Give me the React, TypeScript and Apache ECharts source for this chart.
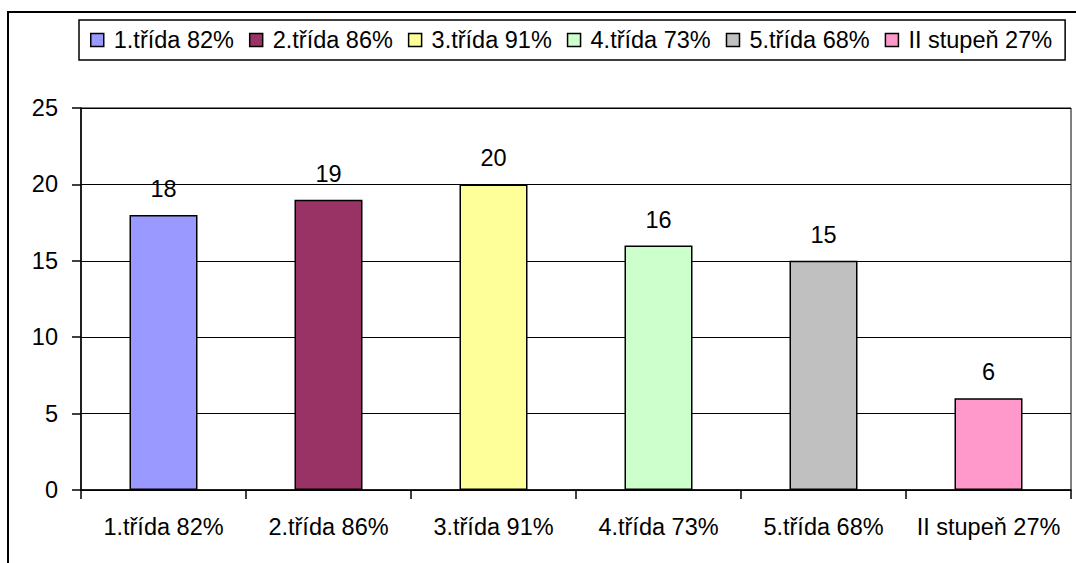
import React, { useEffect, useRef } from "react";
import * as echarts from "echarts";

const categories = ["1.třída 82%", "2.třída 86%", "3.třída 91%", "4.třída 73%", "5.třída 68%", "II stupeň 27%"];
const values = [18, 19, 20, 16, 15, 6];
const colors = ["#9999FF", "#993366", "#FFFF99", "#CCFFCC", "#C0C0C0", "#FF99CC"];

const FONT = "Liberation Sans, Arial, sans-serif";
const FS = 23.5;

export default function App() {
  const ref = useRef<HTMLDivElement>(null);
  useEffect(() => {
    if (!ref.current) return;
    const chart = echarts.init(ref.current, undefined, { renderer: "svg" });
    const series = categories.map((name, i) => ({
      name,
      type: "bar",
      barWidth: 68,
      barGap: "-100%",
      data: categories.map((_, j) => (j === i ? values[i] : "-")),
      itemStyle: { color: colors[i], borderColor: "#000", borderWidth: 1.5 },
      label: {
        show: true,
        position: "top",
        distance: 14,
        color: "#000",
        fontSize: FS,
        fontFamily: FONT,
      },
    }));
    chart.setOption({
      animation: false,
      backgroundColor: "#fff",
      textStyle: { fontFamily: FONT },
      graphic: [
        {
          type: "rect",
          shape: { x: 8, y: 12, width: 1200, height: 700 },
          style: { fill: "none", stroke: "#000", lineWidth: 2 },
          silent: true,
          z: -1,
        },
      ],
      legend: {
        data: categories,
        left: 79,
        top: 20,
        padding: [8, 13, 8, 11],
        borderColor: "#000",
        borderWidth: 1.5,
        itemGap: 15,
        itemWidth: 13,
        itemHeight: 13,
        icon: "rect",
        itemStyle: { borderColor: "#000", borderWidth: 1.5 },
        textStyle: { color: "#000", fontSize: FS, fontFamily: FONT, padding: [0, 0, 0, 5] },
        selectedMode: false,
      },
      grid: {
        left: 81,
        top: 108,
        right: 5,
        bottom: 73,
        show: true,
        borderColor: "#000",
        borderWidth: 1,
        containLabel: false,
      },
      xAxis: {
        type: "category",
        data: categories,
        axisLine: { show: true, lineStyle: { color: "#000", width: 1.5 } },
        axisTick: { show: true, length: 9, lineStyle: { color: "#000", width: 1.5 } },
        axisLabel: { color: "#000", fontSize: FS, fontFamily: FONT, margin: 25, interval: 0 },
      },
      yAxis: {
        type: "value",
        min: 0,
        max: 25,
        interval: 5,
        axisLine: { show: true, lineStyle: { color: "#000", width: 1.5 } },
        axisTick: { show: true, length: 9, lineStyle: { color: "#000", width: 1.5 } },
        axisLabel: { color: "#000", fontSize: FS, fontFamily: FONT, margin: 23 },
        splitLine: { show: true, lineStyle: { color: "#000", width: 1 } },
      },
      series,
    });
    return () => chart.dispose();
  }, []);
  return (
    <div
      ref={ref}
      style={{ position: "absolute", left: 0, top: 0, width: 1076, height: 563 }}
    />
  );
}
